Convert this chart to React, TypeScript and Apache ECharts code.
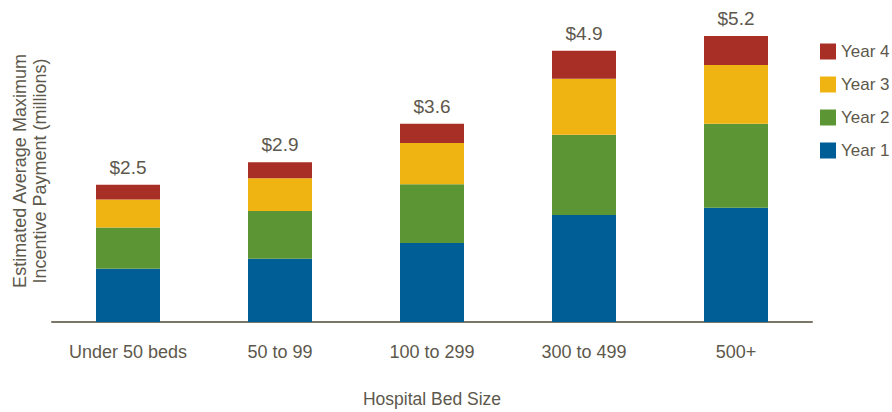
import React, { useEffect, useRef } from "react";
import * as echarts from "echarts";

const categories = ["Under 50 beds", "50 to 99", "100 to 299", "300 to 499", "500+"];
const year1 = [0.97, 1.15, 1.44, 1.95, 2.08];
const year2 = [0.75, 0.87, 1.07, 1.46, 1.53];
const year3 = [0.51, 0.6, 0.75, 1.02, 1.07];
const year4 = [0.27, 0.29, 0.35, 0.51, 0.53];
const totalLabels = ["$2.5", "$2.9", "$3.6", "$4.9", "$5.2"];

const TEXT = "#5d584c";
const FONT = "Liberation Sans, Arial, sans-serif";

export default function App() {
  const ref = useRef<HTMLDivElement>(null);
  useEffect(() => {
    if (!ref.current) return;
    const chart = echarts.init(ref.current, undefined, { renderer: "svg" });
    const mk = (name: string, data: number[], color: string, label = false) => ({
      name,
      type: "bar",
      stack: "total",
      data,
      barWidth: 64,
      itemStyle: { color },
      label: label
        ? {
            show: true,
            position: "top",
            distance: 8,
            color: TEXT,
            fontSize: 19,
            fontFamily: FONT,
            formatter: (p: any) => totalLabels[p.dataIndex],
          }
        : { show: false },
    });
    chart.setOption({
      animation: false,
      textStyle: { fontFamily: FONT },
      grid: { left: 52, right: 80, top: 20, bottom: 90, containLabel: false, outerBoundsMode: "none" },
      legend: {
        orient: "vertical",
        left: 815,
        top: 38,
        itemWidth: 16,
        itemHeight: 16,
        itemGap: 16,
        icon: "rect",
        data: ["Year 4", "Year 3", "Year 2", "Year 1"],
        textStyle: { color: TEXT, fontSize: 17, fontFamily: FONT, padding: [0, 0, 0, 0] },
      },
      xAxis: {
        type: "category",
        data: categories,
        name: "Hospital Bed Size",
        nameLocation: "middle",
        nameGap: 68,
        nameTextStyle: { color: TEXT, fontSize: 17.5, fontFamily: FONT },
        axisLine: { show: true, lineStyle: { color: "#7a7566", width: 2 } },
        axisTick: { show: false },
        axisLabel: { color: TEXT, fontSize: 18, fontFamily: FONT, margin: 21, interval: 0, hideOverlap: false },
      },
      yAxis: {
        type: "value",
        min: 0,
        max: 5.5,
        name: "Estimated Average Maximum\nIncentive Payment (millions)",
        nameLocation: "middle",
        nameRotate: 90,
        nameGap: 2,
        nameTextStyle: { color: TEXT, fontSize: 18, fontFamily: FONT, lineHeight: 20 },
        axisLine: { show: false },
        axisTick: { show: false },
        axisLabel: { show: false },
        splitLine: { show: false },
      },
      series: [
        mk("Year 1", year1, "#005e97"),
        mk("Year 2", year2, "#5c9634"),
        mk("Year 3", year3, "#f0b412"),
        mk("Year 4", year4, "#a82f26", true),
      ],
    });
    return () => chart.dispose();
  }, []);
  return <div ref={ref} style={{ width: 892, height: 412, position: "absolute", left: 0, top: 0 }} />;
}
